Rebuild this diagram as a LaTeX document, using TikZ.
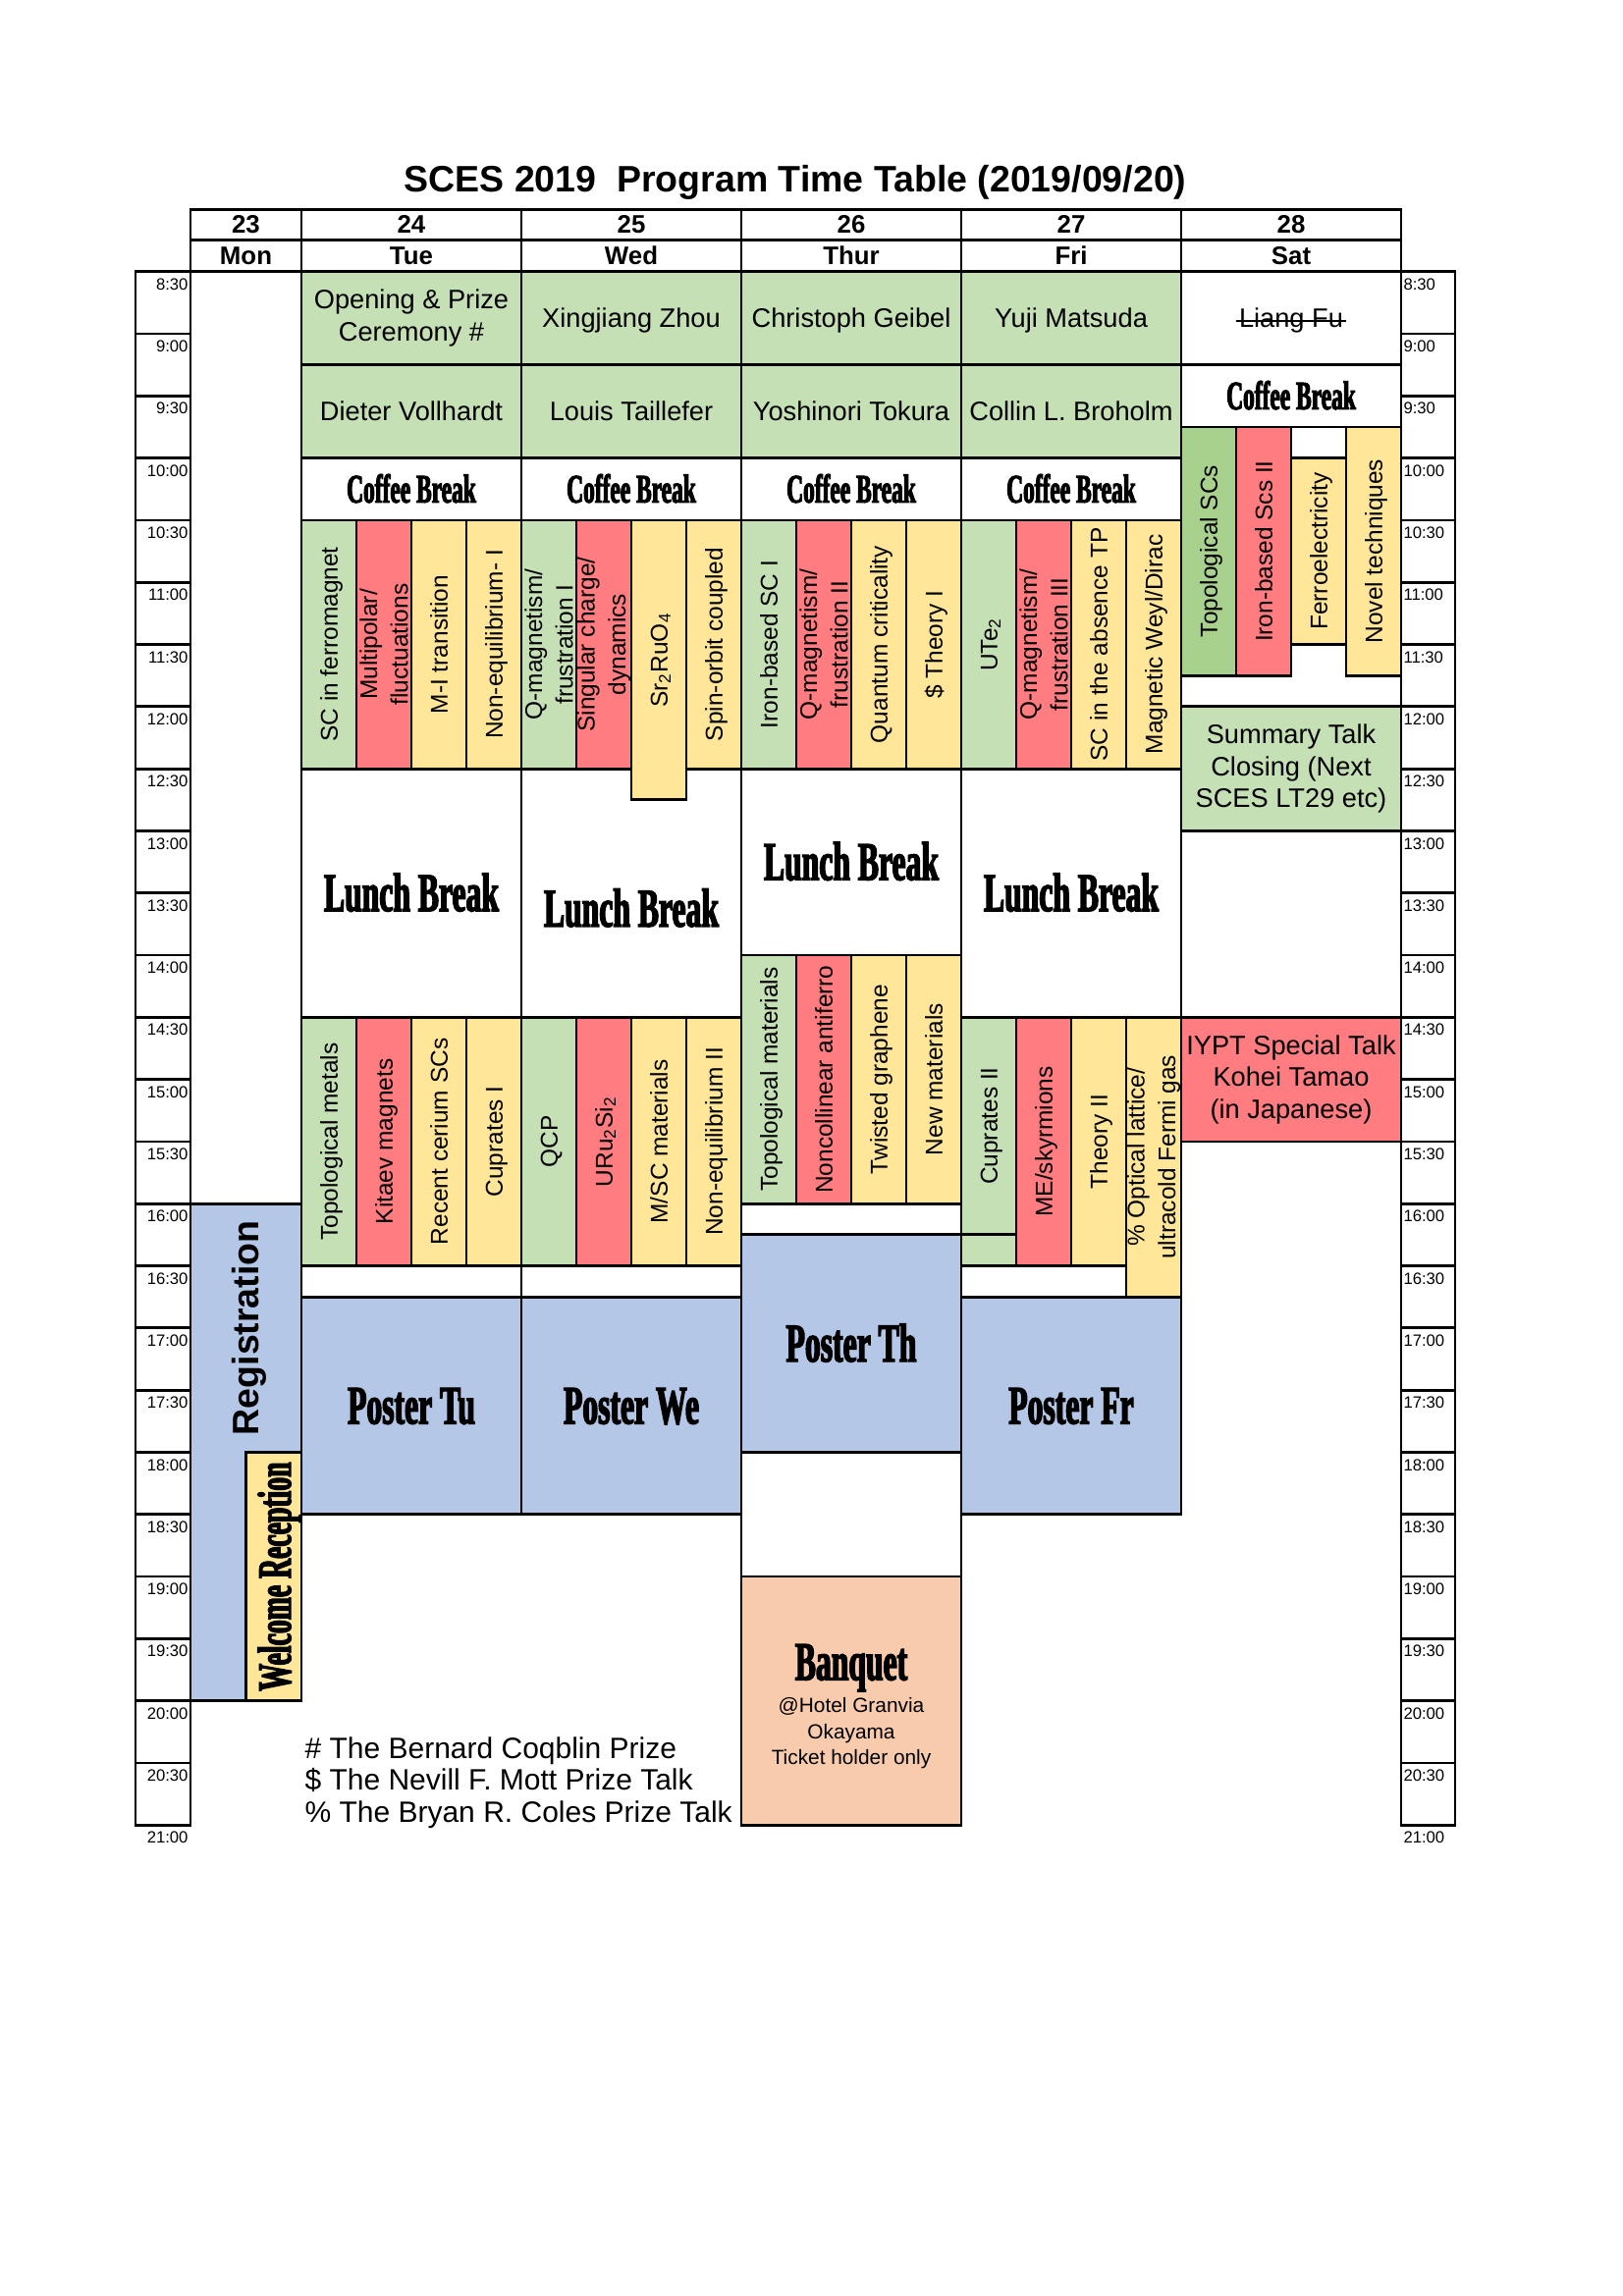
\documentclass[tikz,border=0pt]{standalone}
\usepackage{fontspec}
\setmainfont{Liberation Sans}
\newfontfamily\condserif[FakeStretch=0.57,FakeBold=2.5]{Liberation Serif}
\definecolor{cgreen}{HTML}{C5E0B4}
\definecolor{cdgreen}{HTML}{A9D18E}
\definecolor{cred}{HTML}{FF7C80}
\definecolor{cyellow}{HTML}{FFE699}
\definecolor{cblue}{HTML}{B4C7E7}
\definecolor{cpeach}{HTML}{F8CBAD}
\tikzset{
  cellbox/.style={draw=black, line width=1pt, inner sep=0pt, outer sep=0pt},
  capc/.style={text height=#1, text depth=0pt, inner sep=0pt, outer sep=0pt},
  spk/.style={font=\fontsize{9.8}{11.7}\selectfont, capc=7.02pt},
  spktwo/.style={font=\fontsize{9.8}{11.7}\selectfont, align=center, inner sep=0pt},
  vlab/.style={font=\fontsize{8.8}{11.3}\selectfont, rotate=90, capc=6.3pt},
  vlabtwo/.style={font=\fontsize{8.8}{11.3}\selectfont, rotate=90, align=center, inner sep=0pt},
  coffee/.style={font=\condserif\bfseries\fontsize{14.8}{16}\selectfont, capc=9.8pt},
  big/.style={font=\condserif\bfseries\fontsize{20}{22}\selectfont, capc=13.24pt},
  tlab/.style={font=\fontsize{6}{7}\selectfont, inner sep=0pt, outer sep=0pt},
  hdr/.style={font=\bfseries\fontsize{9.3}{10}\selectfont, capc=6.6pt},
  small/.style={font=\fontsize{7.5}{9}\selectfont, capc=5.37pt},
  foot/.style={font=\fontsize{10.8}{12}\selectfont, inner sep=0pt, anchor=base west},
}
\newcommand\tcell[6]{%
  \pgfmathsetmacro\tcYa{T(#4)}%
  \pgfmathsetmacro\tcYb{T(#5)}%
  \pgfmathsetmacro\tcW{(#3-(#2))*0.36}%
  \pgfmathsetmacro\tcH{(\tcYb-\tcYa)*0.36}%
  \pgfmathsetmacro\tcX{(#2+#3)/2}%
  \pgfmathsetmacro\tcY{(\tcYa+\tcYb)/2}%
  \node[cellbox, fill=#6, minimum width=\tcW pt, minimum height=\tcH pt] (#1) at (\tcX,\tcY) {};%
}
\newcommand\vcell[7]{\tcell{#1}{#2}{#3}{#4}{#5}{#6}\node[vlab] (#1t) at (#1.center) {#7};}
\newcommand\vcelltwo[7]{\tcell{#1}{#2}{#3}{#4}{#5}{#6}\node[vlabtwo] (#1t) at (#1.center) {#7};}
\begin{document}
\begin{tikzpicture}[x=0.36pt, y=-0.36pt, declare function={T(\h)=276.7+(\h-8.5)*126.6;}]
\useasboundingbox (0,0) rectangle (1653,2339);

% title
\node[font=\bfseries\fontsize{13.5}{15}\selectfont, anchor=base, inner sep=0pt] (title) at (810,195) {SCES 2019\ \ Program Time Table (2019/09/20)};

% header
\foreach \xa/\xb/\d/\w [count=\k] in {194/307/23/Mon, 307/531/24/Tue, 531/755/25/Wed, 755/979/26/Thur, 979/1203/27/Fri, 1203/1427/28/Sat}{
  \pgfmathsetmacro\hw{(\xb-\xa)*0.36}
  \pgfmathsetmacro\hx{(\xa+\xb)/2}
  \node[cellbox, minimum width=\hw pt, minimum height=31*0.36pt] (hd\k) at (\hx,228.8) {};
  \node[hdr] (hdt\k) at (hd\k.center) {\d};
  \node[cellbox, minimum width=\hw pt, minimum height=32.4*0.36pt] (hw\k) at (\hx,260.5) {};
  \node[hdr] (hwt\k) at (hw\k.center) {\w};
}

% time columns
\foreach \lab [count=\i from 0] in {8:30,9:00,9:30,10:00,10:30,11:00,11:30,12:00,12:30,13:00,13:30,14:00,14:30,15:00,15:30,16:00,16:30,17:00,17:30,18:00,18:30,19:00,19:30,20:00,20:30}{
  \pgfmathsetmacro\ta{T(8.5+\i/2)}
  \node[cellbox, minimum width=56*0.36pt, minimum height=63.3*0.36pt] (tl\i) at (166,{\ta+31.65}) {};
  \node[tlab, anchor=north east] (tlt\i) at (191.5,{\ta+7}) {\lab};
  \node[cellbox, minimum width=55*0.36pt, minimum height=63.3*0.36pt] (tr\i) at (1454.5,{\ta+31.65}) {};
  \node[tlab, anchor=north west] (trt\i) at (1429.5,{\ta+7}) {\lab};
}
\node[tlab, anchor=north east] (tltend) at (191.5,{T(21)+7}) {21:00};
\node[tlab, anchor=north west] (trtend) at (1429.5,{T(21)+7}) {21:00};

% ---------- Mon
\tcell{reg}{194}{307}{16}{20}{cblue}
\node[font=\bfseries\fontsize{13.5}{15}\selectfont, rotate=90, capc=9.67pt] (regt) at (250,{T(17)}) {Registration};
\tcell{wel}{250.5}{307}{18}{20}{cyellow}
\node[font=\condserif\bfseries\fontsize{17.5}{19}\selectfont, rotate=90, capc=11.6pt] (welt) at (280,{T(19)}) {Welcome Reception};

% ---------- Tue
\tcell{tuo}{307}{531}{8.5}{9.25}{cgreen}
\node[spktwo] (tuot) at (tuo.center) {Opening \& Prize\\Ceremony \#};
\tcell{tud}{307}{531}{9.25}{10}{cgreen}
\node[spk] (tudt) at (tud.center) {Dieter Vollhardt};
\tcell{tuc}{307}{531}{10}{10.5}{white}
\node[coffee] (tuct) at (tuc.center) {Coffee Break};
\vcell{tua}{307}{363}{10.5}{12.5}{cgreen}{SC in ferromagnet}
\vcelltwo{tub}{363}{419}{10.5}{12.5}{cred}{Multipolar/\\fluctuations}
\vcell{tuc3}{419}{475}{10.5}{12.5}{cyellow}{M-I transition}
\vcell{tud4}{475}{531}{10.5}{12.5}{cyellow}{Non-equilibrium- I}
\tcell{tul}{307}{531}{12.5}{14.5}{white}
\node[big] (tult) at (tul.center) {Lunch Break};
\vcell{tue}{307}{363}{14.5}{16.5}{cgreen}{Topological metals}
\vcell{tuf}{363}{419}{14.5}{16.5}{cred}{Kitaev magnets}
\vcell{tug}{419}{475}{14.5}{16.5}{cyellow}{Recent cerium SCs}
\vcell{tuh}{475}{531}{14.5}{16.5}{cyellow}{Cuprates I}
\tcell{tugap}{307}{531}{16.5}{16.75}{white}
\tcell{tup}{307}{531}{16.75}{18.5}{cblue}
\node[big] (tupt) at (tup.center) {Poster Tu};

% ---------- Wed
\tcell{wex}{531}{755}{8.5}{9.25}{cgreen}
\node[spk] (wext) at (wex.center) {Xingjiang Zhou};
\tcell{wel2}{531}{755}{9.25}{10}{cgreen}
\node[spk] (wel2t) at (wel2.center) {Louis Taillefer};
\tcell{wec}{531}{755}{10}{10.5}{white}
\node[coffee] (wect) at (wec.center) {Coffee Break};
\tcell{wel}{531}{755}{12.5}{14.5}{white}
\coordinate (welc) at (643,{T(13.625)});
\node[big] (welt2) at (welc) {Lunch Break};
\vcelltwo{wea}{531}{587}{10.5}{12.5}{cgreen}{Q-magnetism/\\frustration I}
\vcelltwo{web}{587}{643}{10.5}{12.5}{cred}{Singular charge/\\dynamics}
\vcell{wecc}{643}{699}{10.5}{12.75}{cyellow}{Sr\textsubscript{2}RuO\textsubscript{4}}
\vcell{wed}{699}{755}{10.5}{12.5}{cyellow}{Spin-orbit coupled}
\vcell{wee}{531}{587}{14.5}{16.5}{cgreen}{QCP}
\vcell{wef}{587}{643}{14.5}{16.5}{cred}{URu\textsubscript{2}Si\textsubscript{2}}
\vcell{weg}{643}{699}{14.5}{16.5}{cyellow}{M/SC materials}
\vcell{weh}{699}{755}{14.5}{16.5}{cyellow}{Non-equilibrium II}
\tcell{wegap}{531}{755}{16.5}{16.75}{white}
\tcell{wep}{531}{755}{16.75}{18.5}{cblue}
\node[big] (wept) at (wep.center) {Poster We};

% ---------- Thu
\tcell{thg}{755}{979}{8.5}{9.25}{cgreen}
\node[spk] (thgt) at (thg.center) {Christoph Geibel};
\tcell{tht}{755}{979}{9.25}{10}{cgreen}
\node[spk] (thtt) at (tht.center) {Yoshinori Tokura};
\tcell{thc}{755}{979}{10}{10.5}{white}
\node[coffee] (thct) at (thc.center) {Coffee Break};
\vcell{tha}{755}{811}{10.5}{12.5}{cgreen}{Iron-based SC I}
\vcelltwo{thb}{811}{867}{10.5}{12.5}{cred}{Q-magnetism/\\frustration II}
\vcell{thcc}{867}{923}{10.5}{12.5}{cyellow}{Quantum criticality}
\vcell{thd}{923}{979}{10.5}{12.5}{cyellow}{\$ Theory I}
\tcell{thl}{755}{979}{12.5}{14}{white}
\node[big] (thlt) at (thl.center) {Lunch Break};
\vcell{the}{755}{811}{14}{16}{cgreen}{Topological materials}
\vcell{thf}{811}{867}{14}{16}{cred}{Noncollinear antiferro}
\vcell{thgg}{867}{923}{14}{16}{cyellow}{Twisted graphene}
\vcell{thh}{923}{979}{14}{16}{cyellow}{New materials}
\tcell{thgap}{755}{979}{16}{16.25}{white}
\tcell{thp}{755}{979}{16.25}{18}{cblue}
\node[big] (thpt) at (thp.center) {Poster Th};
\tcell{thw}{755}{979}{18}{19}{white}
\tcell{thq}{755}{979}{19}{21}{cpeach}
\node[big] (thqt) at (867,1693) {Banquet};
\node[small] (thq1) at (867,1737) {@Hotel Granvia};
\node[small] (thq2) at (867,1763.7) {Okayama};
\node[small] (thq3) at (867,1789.7) {Ticket holder only};

% ---------- Fri
\tcell{frm}{979}{1203}{8.5}{9.25}{cgreen}
\node[spk] (frmt) at (frm.center) {Yuji Matsuda};
\tcell{frb}{979}{1203}{9.25}{10}{cgreen}
\node[spk] (frbt) at (frb.center) {Collin L. Broholm};
\tcell{frc}{979}{1203}{10}{10.5}{white}
\node[coffee] (frct) at (frc.center) {Coffee Break};
\vcell{fra}{979}{1035}{10.5}{12.5}{cgreen}{UTe\textsubscript{2}}
\vcelltwo{frbb}{1035}{1091}{10.5}{12.5}{cred}{Q-magnetism/\\frustration III}
\vcell{frcc}{1091}{1147}{10.5}{12.5}{cyellow}{SC in the absence TP}
\vcell{frd}{1147}{1203}{10.5}{12.5}{cyellow}{Magnetic Weyl/Dirac}
\tcell{frl}{979}{1203}{12.5}{14.5}{white}
\node[big] (frlt) at (frl.center) {Lunch Break};
\vcell{fre}{979}{1035}{14.5}{16.25}{cgreen}{Cuprates II}
\tcell{fre2}{979}{1035}{16.25}{16.5}{cgreen}
\vcell{frf}{1035}{1091}{14.5}{16.5}{cred}{ME/skyrmions}
\vcell{frg}{1091}{1147}{14.5}{16.5}{cyellow}{Theory II}
\tcell{frgap}{979}{1147}{16.5}{16.75}{white}
\vcelltwo{frh}{1147}{1203}{14.5}{16.75}{cyellow}{\% Optical lattice/\\ultracold Fermi gas}
\tcell{frp}{979}{1203}{16.75}{18.5}{cblue}
\node[big] (frpt) at (frp.center) {Poster Fr};

% ---------- Sat
\tcell{saf}{1203}{1427}{8.5}{9.25}{white}
\node[spk] (saft) at (saf.center) {Liang Fu};
\draw[line width=0.8pt] ([xshift=-1pt,yshift=2.4pt]saft.south west) -- ([xshift=1pt,yshift=2.4pt]saft.south east);
\tcell{sac}{1203}{1427}{9.25}{9.75}{white}
\node[coffee] (sact) at (sac.center) {Coffee Break};
\vcell{saa}{1203}{1259}{9.75}{11.75}{cdgreen}{Topological SCs}
\vcell{sab}{1259}{1315}{9.75}{11.75}{cred}{Iron-based Scs II}
\vcell{sacc}{1315}{1371}{10}{11.5}{cyellow}{Ferroelectricity}
\vcell{sad}{1371}{1427}{9.75}{11.75}{cyellow}{Novel techniques}
\tcell{sas}{1203}{1427}{12}{13}{cgreen}
\node[spktwo] (sast) at (sas.center) {Summary Talk\\Closing (Next\\SCES LT29 etc)};
\tcell{sai}{1203}{1427}{14.5}{15.5}{cred}
\node[spktwo] (sait) at (sai.center) {IYPT Special Talk\\Kohei Tamao\\(in Japanese)};

% footnotes
\node[foot] (fn1) at (310,1791.7) {\# The Bernard Coqblin Prize};
\node[foot] (fn2) at (310,1823.3) {\$ The Nevill F. Mott Prize Talk};
\node[foot] (fn3) at (310,1856) {\% The Bryan R. Coles Prize Talk};
\end{tikzpicture}
\end{document}
